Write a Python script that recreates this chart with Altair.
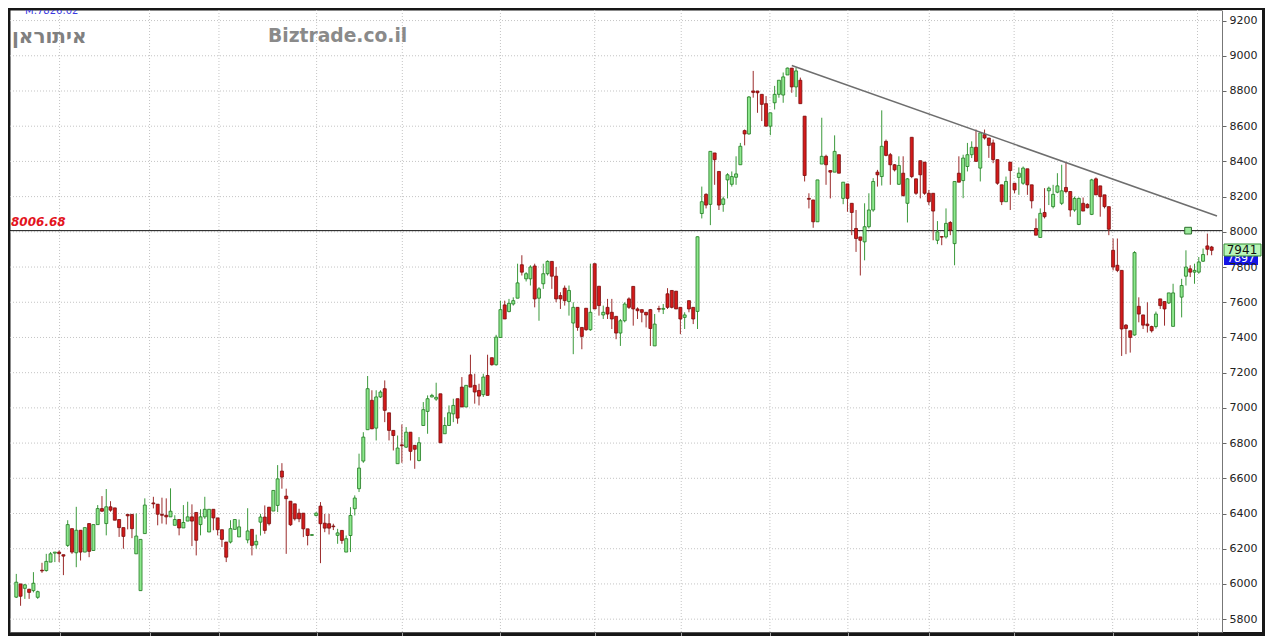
import altair as alt
import pandas as pd

# trading-day index of every candle (two holiday gaps at 31, 53 and 271)
T = list(range(0, 31)) + list(range(32, 53)) + list(range(54, 271)) + list(range(272, 280))

OPEN = [
    5925, 6000, 5975, 5970, 5962, 5924, 6078, 6076, 6124, 6175,
    6181, 6166, 6219, 6314, 6177, 6305, 6181, 6343, 6190, 6337,
    6428, 6343, 6438, 6432, 6366, 6320, 6395, 6395, 6171, 5962,
    6286,
    6460, 6453, 6395, 6390, 6381, 6333, 6366, 6318, 6357, 6381,
    6406, 6337, 6381, 6295, 6424, 6375, 6308, 6238, 6238, 6310,
    6267,
    6250, 6310, 6222, 6351, 6380, 6436, 6414, 6446, 6641, 6499,
    6470, 6455, 6402, 6402, 6313, 6276, 6389, 6442, 6345, 6342,
    6329, 6276, 6304, 6181, 6275, 6427, 6541, 6698, 6876, 7043,
    6885, 7062, 7109, 6972, 6872, 6683, 6790, 6777, 6862, 6787,
    6701, 6900, 6980, 7062, 7050, 7080, 6853, 6900, 6966, 7052,
    7118, 7005, 7188, 7128, 7099, 7075, 7184, 7285, 7245, 7400,
    7585, 7547, 7590, 7623, 7813, 7733, 7733, 7806, 7623, 7705,
    7762, 7832, 7748, 7638, 7680, 7604, 7482, 7571, 7457, 7566,
    7444, 7819, 7691, 7528, 7571, 7543, 7520, 7425, 7495, 7619,
    7690, 7562, 7558, 7543, 7558, 7352, 7564, 7560, 7648, 7667,
    7663, 7571, 7514, 7609, 7571, 7548, 8104, 8213, 8156, 8448,
    8343, 8156, 8295, 8270, 8310, 8381, 8575, 8556, 8800, 8800,
    8781, 8728, 8600, 8733, 8781, 8777, 8891, 8930, 8823, 8861,
    8657, 8190, 8181, 8057, 8385, 8429, 8348, 8339, 8438, 8190,
    8272, 8162, 8019, 7971, 7943, 8029, 8124, 8339, 8314, 8514,
    8438, 8381, 8270, 8333, 8162, 8537, 8301, 8404, 8396, 8219,
    8219, 7952, 7973, 7971, 8053, 7933, 8333, 8291, 8371, 8438,
    8480, 8362, 8552, 8533, 8505, 8410, 8267, 8171, 8396, 8276,
    8309, 8276, 8358, 8267, 8019, 7968, 8110, 8233, 8143, 8225,
    8162, 8252, 8229, 8124, 8042, 8162, 8156, 8099, 8301, 8261,
    8210, 8143, 7895, 7810, 7781, 7470, 7438, 7414, 7577, 7528,
    7476, 7462, 7462, 7619, 7604, 7596, 7463,
    7629, 7748, 7790, 7771, 7771, 7833, 7920, 7914,
]

HIGH = [
    6057, 6000, 6000, 5972, 6067, 5962, 6120, 6171, 6181, 6181,
    6190, 6166, 6362, 6314, 6438, 6305, 6320, 6343, 6337, 6448,
    6499, 6539, 6470, 6432, 6366, 6320, 6395, 6395, 6400, 6253,
    6486,
    6495, 6453, 6490, 6486, 6543, 6390, 6366, 6448, 6467, 6452,
    6406, 6424, 6495, 6424, 6424, 6375, 6308, 6238, 6362, 6366,
    6366,
    6430, 6310, 6280, 6398, 6446, 6436, 6531, 6675, 6686, 6541,
    6470, 6455, 6427, 6402, 6313, 6282, 6408, 6465, 6398, 6398,
    6342, 6313, 6304, 6275, 6436, 6503, 6740, 6862, 7181, 7100,
    7100, 7100, 7156, 6972, 6872, 6843, 6906, 6891, 6862, 6787,
    6834, 7033, 7071, 7080, 7143, 7080, 6947, 7014, 7052, 7052,
    7175, 7128, 7302, 7194, 7137, 7194, 7302, 7285, 7415, 7609,
    7609, 7619, 7628, 7819, 7867, 7771, 7810, 7819, 7686, 7819,
    7838, 7832, 7800, 7657, 7695, 7695, 7600, 7571, 7457, 7566,
    7819, 7819, 7691, 7581, 7619, 7619, 7520, 7505, 7600, 7628,
    7690, 7571, 7558, 7543, 7562, 7533, 7580, 7590, 7680, 7667,
    7663, 7571, 7543, 7609, 7571, 7974, 8257, 8219, 8457, 8448,
    8343, 8200, 8333, 8343, 8429, 8505, 8581, 8771, 8914, 8800,
    8781, 8771, 8676, 8829, 8861, 8905, 8933, 8930, 8933, 8876,
    8657, 8219, 8181, 8295, 8648, 8438, 8348, 8548, 8438, 8282,
    8272, 8162, 8124, 7971, 8162, 8219, 8305, 8352, 8690, 8524,
    8448, 8385, 8429, 8429, 8305, 8537, 8301, 8404, 8396, 8238,
    8219, 8061, 7975, 8133, 8061, 8286, 8429, 8438, 8505, 8514,
    8581, 8562, 8581, 8533, 8524, 8410, 8267, 8314, 8396, 8276,
    8366, 8371, 8358, 8267, 8076, 8133, 8248, 8257, 8267, 8333,
    8381, 8396, 8229, 8200, 8195, 8195, 8162, 8301, 8309, 8261,
    8210, 8143, 7962, 7962, 7781, 7476, 7438, 7890, 7628, 7528,
    7600, 7467, 7547, 7619, 7604, 7653, 7705,
    7733, 7895, 7810, 7819, 7857, 7905, 7990, 7920,
]

LOW = [
    5920, 5876, 5915, 5915, 5952, 5915, 6063, 6070, 6124, 6124,
    6124, 6050, 6210, 6171, 6095, 6133, 6181, 6152, 6190, 6337,
    6410, 6276, 6410, 6362, 6267, 6200, 6310, 6260, 6171, 5962,
    6286,
    6429, 6333, 6343, 6338, 6381, 6333, 6276, 6318, 6357, 6215,
    6162, 6276, 6370, 6295, 6305, 6276, 6210, 6124, 6230, 6310,
    6267,
    6231, 6162, 6200, 6275, 6285, 6332, 6414, 6408, 6541, 6171,
    6330, 6360, 6351, 6266, 6219, 6274, 6383, 6118, 6294, 6281,
    6306, 6228, 6228, 6181, 6181, 6389, 6522, 6688, 6876, 6881,
    6815, 7056, 6919, 6815, 6758, 6683, 6688, 6772, 6701, 6654,
    6696, 6900, 6853, 7060, 7040, 6800, 6853, 6900, 6919, 6910,
    7005, 7005, 7118, 7024, 7014, 7062, 7071, 7240, 7240, 7400,
    7505, 7543, 7581, 7623, 7752, 7718, 7695, 7571, 7495, 7676,
    7752, 7676, 7600, 7562, 7581, 7524, 7305, 7438, 7333, 7438,
    7438, 7562, 7524, 7505, 7505, 7448, 7390, 7352, 7486, 7562,
    7467, 7505, 7486, 7457, 7352, 7352, 7543, 7533, 7562, 7565,
    7562, 7419, 7448, 7543, 7476, 7448, 8076, 8133, 8038, 8267,
    8124, 8114, 8190, 8257, 8267, 8381, 8491, 8552, 8762, 8676,
    8629, 8600, 8549, 8695, 8762, 8733, 8891, 8790, 8766, 8728,
    8286, 8133, 8023, 8057, 8385, 8267, 8190, 8339, 8333, 8157,
    8114, 7981, 7886, 7752, 7838, 8019, 8114, 8257, 8263, 8429,
    8267, 8343, 8267, 8200, 8053, 8305, 8210, 8190, 8210, 8152,
    7952, 7930, 7924, 7962, 7981, 7810, 8282, 8191, 8343, 8419,
    8400, 8286, 8524, 8420, 8390, 8267, 8152, 8171, 8124, 8219,
    8210, 8267, 8210, 8133, 7981, 7968, 8076, 8152, 8133, 8219,
    8152, 8219, 8086, 8114, 8038, 8118, 8133, 8095, 8210, 8086,
    8133, 7981, 7781, 7771, 7295, 7305, 7314, 7410, 7486, 7448,
    7428, 7428, 7451, 7562, 7467, 7590, 7463,
    7514, 7695, 7743, 7705, 7762, 7829, 7867, 7867,
]

CLOSE = [
    6010, 5930, 5995, 5952, 6004, 5956, 6074, 6128, 6171, 6181,
    6172, 6158, 6337, 6181, 6305, 6181, 6320, 6185, 6337, 6428,
    6413, 6438, 6419, 6362, 6320, 6270, 6387, 6314, 6272, 6253,
    6448,
    6455, 6396, 6390, 6381, 6413, 6366, 6318, 6349, 6381, 6357,
    6248, 6381, 6424, 6424, 6375, 6308, 6253, 6152, 6314, 6366,
    6324,
    6301, 6219, 6242, 6380, 6304, 6342, 6531, 6597, 6607, 6484,
    6336, 6370, 6370, 6313, 6275, 6280, 6402, 6342, 6317, 6317,
    6325, 6290, 6247, 6257, 6389, 6488, 6658, 6834, 7109, 6881,
    7062, 7090, 6986, 6872, 6843, 6772, 6785, 6862, 6753, 6765,
    6802, 6990, 7052, 7071, 7060, 6802, 6900, 6972, 7014, 6942,
    7005, 7128, 7118, 7090, 7067, 7175, 7071, 7245, 7402, 7558,
    7505, 7594, 7609, 7710, 7771, 7762, 7800, 7619, 7676, 7762,
    7832, 7748, 7619, 7619, 7609, 7667, 7571, 7457, 7406, 7444,
    7543, 7562, 7581, 7543, 7533, 7505, 7425, 7495, 7590, 7571,
    7562, 7552, 7543, 7528, 7451, 7476, 7560, 7565, 7571, 7571,
    7562, 7505, 7528, 7562, 7505, 7972, 8171, 8152, 8457, 8410,
    8152, 8187, 8324, 8314, 8329, 8486, 8556, 8766, 8792, 8790,
    8724, 8600, 8676, 8781, 8861, 8880, 8930, 8823, 8914, 8728,
    8320, 8185, 8057, 8295, 8429, 8381, 8339, 8457, 8333, 8282,
    8190, 8110, 7962, 7952, 8029, 8124, 8286, 8324, 8486, 8434,
    8381, 8352, 8377, 8206, 8301, 8314, 8219, 8324, 8219, 8171,
    8118, 8000, 7970, 8048, 8010, 8286, 8282, 8419, 8438, 8480,
    8400, 8562, 8533, 8491, 8410, 8276, 8171, 8286, 8348, 8238,
    8333, 8362, 8267, 8176, 7981, 8105, 8086, 8248, 8213, 8261,
    8233, 8229, 8124, 8190, 8190, 8118, 8137, 8295, 8210, 8200,
    8143, 8015, 7800, 7781, 7448, 7451, 7400, 7882, 7533, 7470,
    7467, 7438, 7533, 7581, 7562, 7653, 7653,
    7695, 7800, 7771, 7781, 7829, 7871, 7901, 7895,
]

MONTH_T = [10.1, 31.1, 47.3, 70.1, 90.1, 113.0, 135.0, 155.2, 175.9, 194.1, 213.1, 232.9, 255.9, 275.7]
GRID_Y = list(range(5800, 9201, 200))
LEVEL = 8006.68
LEVEL_LABEL = "8006.68"
TREND_T = [181.0, 280.25]
TREND_P = [8945, 8090]
MARK_T = [273.5]
LAST_GREEN = "7941"
LAST_BLUE = "7897"
TITLE_HE = "איתוראן"
SITE = "Biztrade.co.il"
MA_TEXT = "M:7826.02"

n = len(T)
assert len(OPEN) == n and len(HIGH) == n and len(LOW) == n and len(CLOSE) == n

df = pd.DataFrame({"t": T, "open": OPEN, "high": HIGH, "low": LOW, "close": CLOSE})
df["dir"] = ["up" if c >= o else "down" for o, c in zip(OPEN, CLOSE)]

W, H = 1212, 622
xs = alt.Scale(domain=[-0.3, 280.25], nice=False, zero=False)
ys = alt.Scale(domain=[5727, 9260], nice=False, zero=False)

x_axis = alt.Axis(values=MONTH_T, labels=False, ticks=True, tickSize=4, tickColor="#a0a0a0",
                  domain=True, domainColor="#555555", grid=False, title=None, zindex=1)
y_axis = alt.Axis(orient="right", values=GRID_Y, format="d", tickSize=4, tickColor="#666666",
                  domain=True, domainColor="#777777", labelFont="DejaVu Sans", labelFontSize=11,
                  labelColor="#222222", labelPadding=3, grid=False, title=None, zindex=1)


def X(f):
    return alt.X(f, type="quantitative", scale=xs, axis=x_axis)


def Y(f):
    return alt.Y(f, type="quantitative", scale=ys, axis=y_axis)


one = pd.DataFrame({"a": [0]})

axis_bg = alt.Chart(one).mark_rect(fill="white").encode(
    x=alt.value(W), x2=alt.value(W + 40), y=alt.value(0), y2=alt.value(H))

hgrid = alt.Chart(pd.DataFrame({"v": GRID_Y})).mark_rule(
    color="#c4c4c4", strokeDash=[1, 2], strokeWidth=1).encode(
    y=Y("v"), x=alt.value(0), x2=alt.value(W))

vgrid = alt.Chart(pd.DataFrame({"m": MONTH_T})).mark_rule(
    color="#c4c4c4", strokeDash=[1, 2], strokeWidth=1).encode(
    x=X("m"), y=alt.value(0), y2=alt.value(H))

level = alt.Chart(pd.DataFrame({"v": [LEVEL], "lab": [LEVEL_LABEL]}))
level_rule = level.mark_rule(color="#111111", strokeWidth=1).encode(
    y=Y("v"), x=alt.value(0), x2=alt.value(W))
level_text = level.mark_text(align="left", baseline="middle", dx=1, dy=-9, font="DejaVu Sans",
                             fontSize=12, fontWeight="bold", fontStyle="italic",
                             color="#e3141e").encode(x=alt.value(0), y=Y("v"), text="lab:N")

wicks = alt.Chart(df).mark_rule(strokeWidth=1).encode(
    x=X("t"), y=Y("low"), y2=alt.Y2("high"),
    color=alt.Color("dir:N", scale=alt.Scale(domain=["up", "down"], range=["#3c9a3c", "#9b2c2c"]),
                    legend=None))

bodies = alt.Chart(df).mark_bar(size=3, strokeWidth=0.8).encode(
    x=X("t"), y=Y("open"), y2=alt.Y2("close"),
    fill=alt.Fill("dir:N", scale=alt.Scale(domain=["up", "down"], range=["#8ee88e", "#d41a1a"]),
                  legend=None),
    stroke=alt.Stroke("dir:N", scale=alt.Scale(domain=["up", "down"], range=["#1f7a1f", "#7a0c0c"]),
                      legend=None))

trend = alt.Chart(pd.DataFrame({"t": TREND_T, "p": TREND_P})).mark_line(
    color="#6e6e6e", strokeWidth=1.5).encode(x=X("t"), y=Y("p"))

marker = alt.Chart(pd.DataFrame({"t": MARK_T, "p": [LEVEL]})).mark_square(
    size=45, filled=True, color="#9be89b", stroke="#2a6e2a", strokeWidth=1, opacity=1).encode(
    x=X("t"), y=Y("p"))

title_he = alt.Chart(pd.DataFrame({"s": [TITLE_HE]})).mark_text(
    align="left", baseline="middle", font="DejaVu Sans", fontSize=20, fontWeight="bold",
    color="#808080").encode(x=alt.value(2), y=alt.value(27), text="s:N")

site = alt.Chart(pd.DataFrame({"s": [SITE]})).mark_text(
    align="left", baseline="middle", font="DejaVu Sans", fontSize=18.7, fontWeight="bold",
    color="#8a8a8a").encode(x=alt.value(258), y=alt.value(26), text="s:N")

ma_text = alt.Chart(pd.DataFrame({"s": [MA_TEXT]})).mark_text(
    align="left", baseline="middle", font="DejaVu Sans", fontSize=10, color="#3a3ae0",
    clip=True).encode(x=alt.value(15), y=alt.value(1), text="s:N")

blue_box = alt.Chart(one).mark_rect(fill="#1414e6").encode(
    x=alt.value(W + 2), x2=alt.value(W + 36), y=alt.value(246), y2=alt.value(255))
blue_text = alt.Chart(pd.DataFrame({"s": [LAST_BLUE]})).mark_text(
    align="center", baseline="middle", font="DejaVu Sans", fontSize=11, color="white").encode(
    x=alt.value(W + 19), y=alt.value(248.5), text="s:N")
green_box = alt.Chart(one).mark_rect(fill="#b8f5b8", stroke="#2e8b2e", strokeWidth=1).encode(
    x=alt.value(W + 2), x2=alt.value(W + 39), y=alt.value(234), y2=alt.value(246))
green_text = alt.Chart(pd.DataFrame({"s": [LAST_GREEN]})).mark_text(
    align="center", baseline="middle", font="DejaVu Sans", fontSize=12, color="#111111").encode(
    x=alt.value(W + 20), y=alt.value(240), text="s:N")

chart = alt.layer(
    axis_bg, hgrid, vgrid, level_rule, wicks, bodies, trend, marker,
    level_text, title_he, site, ma_text, blue_box, blue_text, green_box, green_text
).properties(
    width=W, height=H,
    padding={"left": 2, "top": 2, "right": 43, "bottom": 4},
    autosize=alt.AutoSizeParams(type="none"),
    background="#171717",
).configure_view(fill="white", stroke="transparent")

chart.save("out.html", embed_options={"renderer": "svg", "actions": False})
